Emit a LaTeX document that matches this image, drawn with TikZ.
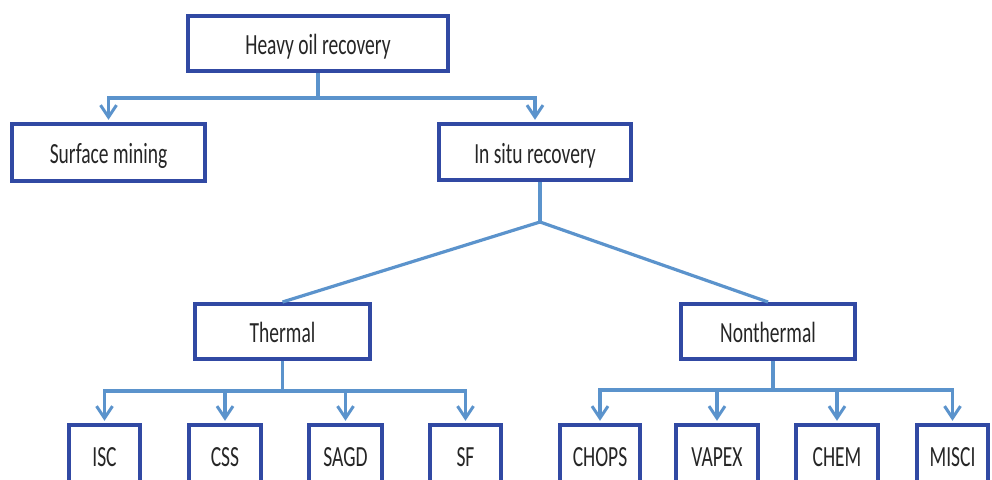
\documentclass[tikz,border=0pt]{standalone}
\usepackage{fontspec}
\setmainfont{Carlito}
\usetikzlibrary{arrows.meta,calc}
\definecolor{boxblue}{HTML}{3149A3}
\definecolor{linkblue}{HTML}{5B93CC}
\definecolor{txtgray}{HTML}{262626}
\newcommand{\tallt}[1]{\scalebox{1}[1.5]{#1}}
\tikzset{
  box/.style={draw=boxblue, line width=4.3pt, fill=white, inner sep=0pt,
    text height=24pt, text depth=2pt,
    font=\fontsize{19.5}{22}\selectfont, text=txtgray},
  conn/.style={draw=linkblue, line width=3.2pt},
  arr/.style={-{Straight Barb[length=12pt,width=16pt,line width=3pt]}},
}
\begin{document}
\begin{tikzpicture}[x=1pt,y=-1pt]
\useasboundingbox (0,0) rectangle (992,479);
\clip (0,0) rectangle (992,479);
\fill[white] (0,0) rectangle (992,479);
% nodes
\node[box, minimum width=259.7pt, minimum height=54.7pt] (hor) at (318,43.5) {\tallt{Heavy oil recovery}};
\node[box, minimum width=192.7pt, minimum height=56.7pt] (sm) at (108.5,152.5) {\tallt{Surface mining}};
\node[box, minimum width=191.7pt, minimum height=55.7pt] (isr) at (535,152) {\tallt{In situ recovery}};
\node[box, minimum width=174.7pt, minimum height=54.7pt] (th) at (282.5,331.5) {\tallt{Thermal}};
\node[box, minimum width=173.7pt, minimum height=54.7pt] (nt) at (768,331.5) {\tallt{Nonthermal}};
\node[box, minimum width=70.7pt, minimum height=59.7pt] (isc) at (104.5,455) {\tallt{ISC}};
\node[box, minimum width=71.7pt, minimum height=59.7pt] (css) at (225,455) {\tallt{CSS}};
\node[box, minimum width=72.7pt, minimum height=59.7pt] (sagd) at (345.5,455) {\tallt{SAGD}};
\node[box, minimum width=70.7pt, minimum height=59.7pt] (sf) at (465.5,455) {\tallt{SF}};
\node[box, minimum width=79.7pt, minimum height=59.7pt] (chops) at (600,455) {\tallt{CHOPS}};
\node[box, minimum width=81.7pt, minimum height=59.7pt] (vapex) at (717,455) {\tallt{VAPEX}};
\node[box, minimum width=81.7pt, minimum height=59.7pt] (chem) at (837,455) {\tallt{CHEM}};
\node[box, minimum width=70.7pt, minimum height=59.7pt] (misci) at (952.5,455) {\tallt{MISCI}};
% junctions
\coordinate (j1) at (318,98);
\coordinate (j2) at (540,222);
\coordinate (j3) at (282.5,391);
\coordinate (j4) at (773,390);
% connectors
\draw[conn] (hor.south) -- (j1);
\draw[conn,arr] (j1) -| ($(sm.north)+(0,-2.2)$);
\draw[conn,arr] (j1) -| ($(isr.north)+(0,-2.2)$);
\draw[conn] (isr.south -| j2) -- (j2);
\draw[conn] (j2) -- (th.north);
\draw[conn] (j2) -- (nt.north);
\draw[conn] (th.south) -- (j3);
\foreach \n in {isc,css,sagd,sf}{
  \draw[conn,arr] (j3) -| ($(\n.north)+(0,-2.2)$);
}
\draw[conn] (nt.south -| j4) -- (j4);
\foreach \n in {chops,vapex,chem,misci}{
  \draw[conn,arr] (j4) -| ($(\n.north)+(0,-2.2)$);
}
\end{tikzpicture}
\end{document}
